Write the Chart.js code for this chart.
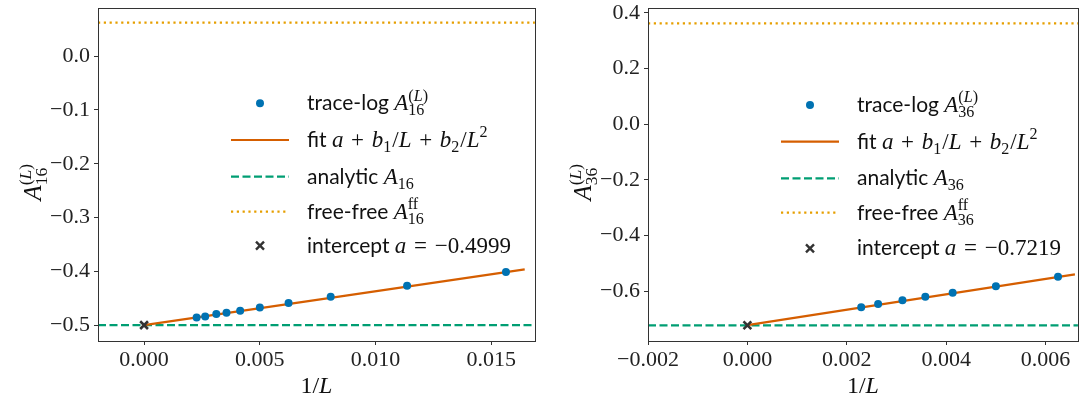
<!DOCTYPE html>
<html>
<head>
<meta charset="utf-8">
<script src="https://cdn.jsdelivr.net/npm/chart.js@4.4.1/dist/chart.umd.min.js"></script>
<style>
html, body { margin: 0; padding: 0; background: #fff; }
.panel { position: absolute; top: 0; width: 543px; height: 408px; }
</style>
</head>
<body>
<div class="panel" style="left:0"><canvas id="chart16" width="543" height="408"></canvas></div>
<div class="panel" style="left:543px"><canvas id="chart36" width="543" height="408"></canvas></div>
<script>
// ---- data: A16 panel ----
var invL16 = [0.00227, 0.00264, 0.00312, 0.00356, 0.00415, 0.00500, 0.00624, 0.00806, 0.01136, 0.01563];
var traceLog16 = [-0.4856, -0.4837, -0.4794, -0.4771, -0.4734, -0.4672, -0.4587, -0.4470, -0.4268, -0.4011];
var fitX16 = [0, 0.0082, 0.01644];
var fitY16 = [-0.4999, -0.4482, -0.3963];
var analytic16 = -0.5;
var freeFree16 = 0.0624;
var intercept16 = -0.4999;
var xTicks16 = [0, 0.005, 0.010, 0.015];
var yTicks16 = [0.0, -0.1, -0.2, -0.3, -0.4, -0.5];

// ---- data: A36 panel ----
var invL36 = [0.00229, 0.00263, 0.00312, 0.00358, 0.00413, 0.00500, 0.00625];
var traceLog36 = [-0.6570, -0.6460, -0.6327, -0.6197, -0.6054, -0.5816, -0.5482];
var fitX36 = [0, 0.00659];
var fitY36 = [-0.7219, -0.5393];
var analytic36 = -0.7226;
var freeFree36 = 0.3618;
var intercept36 = -0.7219;
var xTicks36 = [-0.002, 0, 0.002, 0.004, 0.006];
var yTicks36 = [0.4, 0.2, 0.0, -0.2, -0.4, -0.6];

var SANS = 'Lato';
var SERIF = 'Liberation Serif';
var C_BLUE = '#0072B2', C_RED = '#D55E00', C_GREEN = '#009E73', C_ORANGE = '#E69F00', C_DARK = '#333333';
var MATH = 23;   // legend math size
var TEXT = 21;   // legend sans size

function fmt(v, dec) {
    if (Math.abs(v) < 1e-12) v = 0;
    return v.toFixed(dec).replace('-', '\u2212');
}

function fontOf(kind, size) {
    if (kind === 's') return size + 'px ' + SANS;
    if (kind === 'i') return 'italic ' + size + 'px ' + SERIF;
    return size + 'px ' + SERIF;
}

// runs: [text, kind, size?] or {sup: runs, sub: runs}
function drawRuns(ctx, runs, x, y, size) {
    runs.forEach(function (r) {
        if (Array.isArray(r)) {
            var sz = r[2] || size;
            ctx.font = fontOf(r[1], sz);
            ctx.fillText(r[0], x, y);
            x += ctx.measureText(r[0]).width;
        } else {
            var s = size * 0.7, w1 = 0, w2 = 0;
            if (r.sup) w1 = drawRuns(ctx, r.sup, x, y - size * 0.42, s) - x;
            if (r.sub) w2 = drawRuns(ctx, r.sub, x, y + size * 0.22, s) - x;
            x += Math.max(w1, w2) + 1;
        }
    });
    return x;
}

var PLUS = ' \u200A+\u200A ', EQ = ' \u200A=\u200A ';

function legendItems(n, icpt) {
    var T = TEXT;
    return [
        {kind: 'dot', runs: [['trace-log ', 's', T], ['A', 'i'], {sup: [['(', 'r'], ['L', 'i'], [')', 'r']], sub: [[n, 'r']]}]},
        {kind: 'line', color: C_RED, dash: [], runs: [['fit ', 's', T], ['a', 'i'], [PLUS, 'r'], ['b', 'i'], {sub: [['1', 'r']]}, ['/', 'r'], ['L', 'i'], [PLUS, 'r'], ['b', 'i'], {sub: [['2', 'r']]}, ['/', 'r'], ['L', 'i'], {sup: [['2', 'r']]}]},
        {kind: 'line', color: C_GREEN, dash: [8, 3.5], runs: [['analytic ', 's', T], ['A', 'i'], {sub: [[n, 'r']]}]},
        {kind: 'line', color: C_ORANGE, dash: [2.2, 3.6], runs: [['free-free ', 's', T], ['A', 'i'], {sup: [['ff', 'r']], sub: [[n, 'r']]}]},
        {kind: 'cross', runs: [['intercept ', 's', T], ['a', 'i'], [EQ + '\u2212' + icpt, 'r']]}
    ];
}

function decorPlugin(p) {
    return {
        id: 'decor',
        afterDraw: function (chart) {
            var ctx = chart.ctx, a = chart.chartArea;
            ctx.save();
            // frame
            ctx.strokeStyle = C_DARK;
            ctx.lineWidth = 1;
            ctx.strokeRect(Math.round(a.left) + 0.5, Math.round(a.top) + 0.5, Math.round(a.right - a.left), Math.round(a.bottom - a.top));
            // legend
            ctx.textBaseline = 'alphabetic';
            legendItems(p.n, p.icpt).forEach(function (it, i) {
                var y = p.rows[i];
                if (it.kind === 'dot') {
                    ctx.beginPath();
                    ctx.fillStyle = C_BLUE;
                    ctx.arc(p.mx, y, 4, 0, Math.PI * 2);
                    ctx.fill();
                } else if (it.kind === 'line') {
                    ctx.beginPath();
                    ctx.strokeStyle = it.color;
                    ctx.lineWidth = 2.2;
                    ctx.setLineDash(it.dash);
                    ctx.moveTo(p.lx0, y);
                    ctx.lineTo(p.lx1, y);
                    ctx.stroke();
                    ctx.setLineDash([]);
                } else {
                    ctx.beginPath();
                    ctx.strokeStyle = C_DARK;
                    ctx.lineWidth = 2.4;
                    ctx.moveTo(p.mx - 4, y - 4); ctx.lineTo(p.mx + 4, y + 4);
                    ctx.moveTo(p.mx - 4, y + 4); ctx.lineTo(p.mx + 4, y - 4);
                    ctx.stroke();
                }
                ctx.fillStyle = '#111';
                drawRuns(ctx, it.runs, p.tx, y + 7, MATH);
            });
            // x title
            ctx.font = fontOf('r', 24);
            var w1 = ctx.measureText('1/').width;
            ctx.font = fontOf('i', 24);
            var w2 = ctx.measureText('L').width;
            var cx = (a.left + a.right) / 2 - (w1 + w2) / 2;
            drawRuns(ctx, [['1/', 'r'], ['L', 'i']], cx, 393, 24);
            // y title
            ctx.translate(p.ytx, (a.top + a.bottom) / 2);
            ctx.rotate(-Math.PI / 2);
            drawRuns(ctx, [['A', 'i'], {sup: [['(', 'r'], ['L', 'i'], [')', 'r']], sub: [[p.n, 'r']]}], -26, 8, 25);
            ctx.restore();
        }
    };
}

function noPad(s) { s.paddingTop = 0; s.paddingBottom = 0; s.paddingLeft = 0; s.paddingRight = 0; }

function makePanel(id, d) {
    var pts = function (xs, ys) { return xs.map(function (x, i) { return {x: x, y: ys[i]}; }); };
    new Chart(document.getElementById(id), {
        type: 'scatter',
        data: {
            datasets: [
                {label: 'intercept', data: [{x: 0, y: d.icptY}], pointStyle: 'crossRot', pointRadius: 5.5, borderColor: C_DARK, borderWidth: 2.6, order: 0},
                {label: 'trace-log', data: pts(d.xs, d.ys), pointRadius: 4, backgroundColor: C_BLUE, borderWidth: 0, order: 1},
                {label: 'fit', data: pts(d.fx, d.fy), showLine: true, borderColor: C_RED, borderWidth: 2.2, pointRadius: 0, order: 2},
                {label: 'analytic', data: [{x: d.xmin, y: d.an}, {x: d.xmax, y: d.an}], showLine: true, borderColor: C_GREEN, borderWidth: 2.2, borderDash: [8, 3.5], pointRadius: 0, order: 3},
                {label: 'free-free', data: [{x: d.xmin, y: d.ff}, {x: d.xmax, y: d.ff}], showLine: true, borderColor: C_ORANGE, borderWidth: 2.2, borderDash: [2.2, 3.6], pointRadius: 0, order: 4}
            ]
        },
        options: {
            responsive: false,
            animation: false,
            events: [],
            layout: {padding: {top: d.padTop, right: d.padRight, left: 0, bottom: 0}},
            plugins: {legend: {display: false}, tooltip: {enabled: false}},
            scales: {
                x: {
                    type: 'linear', min: d.xmin, max: d.xmax,
                    afterFit: function (s) { s.height = 67; noPad(s); },
                    afterBuildTicks: function (s) { s.ticks = d.xt.map(function (v) { return {value: v}; }); },
                    grid: {drawOnChartArea: false, drawTicks: true, tickLength: 4, tickColor: C_DARK},
                    border: {display: true, color: C_DARK},
                    ticks: {font: {family: SERIF, size: 22}, color: '#222', padding: 2, maxRotation: 0, callback: function (v) { return fmt(v, 3); }}
                },
                y: {
                    type: 'linear', min: d.ymin, max: d.ymax,
                    afterFit: function (s) { s.width = d.yWidth; noPad(s); },
                    afterBuildTicks: function (s) { s.ticks = d.yt.map(function (v) { return {value: v}; }); },
                    grid: {drawOnChartArea: false, drawTicks: true, tickLength: 4, tickColor: C_DARK},
                    border: {display: true, color: C_DARK},
                    ticks: {font: {family: SERIF, size: 22}, color: '#222', padding: 4, callback: function (v) { return fmt(v, 1); }}
                }
            }
        },
        plugins: [decorPlugin(d.legend)]
    });
}

makePanel('chart16', {
    xs: invL16, ys: traceLog16, fx: fitX16, fy: fitY16, an: analytic16, ff: freeFree16, icptY: intercept16,
    xt: xTicks16, yt: yTicks16, xmin: -0.00199, xmax: 0.01688, ymin: -0.5294, ymax: 0.0894,
    padTop: 4, padRight: 4, yWidth: 98,
    legend: {n: '16', icpt: '0.4999', mx: 260, lx0: 231, lx1: 289, tx: 307, ytx: 33, rows: [103.3, 140, 176.7, 211.7, 245.7]}
});

makePanel('chart36', {
    xs: invL36, ys: traceLog36, fx: fitX36, fy: fitY36, an: analytic36, ff: freeFree36, icptY: intercept36,
    xt: xTicks36, yt: yTicks36, xmin: -0.002, xmax: 0.00665, ymin: -0.7786, ymax: 0.4168,
    padTop: 6, padRight: 2, yWidth: 105,
    legend: {n: '36', icpt: '0.7219', mx: 267, lx0: 238, lx1: 296, tx: 314, ytx: 40, rows: [105, 141.7, 178.3, 212.7, 248.3]}
});
</script>
</body>
</html>
